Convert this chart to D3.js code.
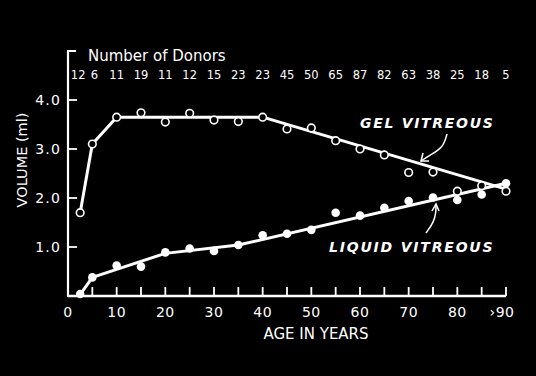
<!DOCTYPE html>
<html>
<head>
<meta charset="utf-8">
<script src="https://cdn.jsdelivr.net/npm/d3@7"></script>
<style>
  body { margin: 0; background: #000; }
  text { font-family: "DejaVu Sans", sans-serif; fill: #fff; }
</style>
</head>
<body>
<div id="chart"></div>
<script>
// ages of the donor groups (last one is >90)
const ages = [2.5, 5, 10, 15, 20, 25, 30, 35, 40, 45, 50, 55, 60, 65, 70, 75, 80, 85, 90]
const donors = [12, 6, 11, 19, 11, 12, 15, 23, 23, 45, 50, 65, 87, 82, 63, 38, 25, 18, 5]
const gelVolume = [1.70, 3.10, 3.65, 3.74, 3.55, 3.73, 3.59, 3.56, 3.65, 3.41, 3.43, 3.17, 3.00, 2.88, 2.52, 2.53, 2.14, 2.25, 2.14]
const liquidVolume = [0.04, 0.38, 0.62, 0.60, 0.89, 0.97, 0.92, 1.04, 1.24, 1.27, 1.35, 1.70, 1.64, 1.80, 1.94, 2.01, 1.96, 2.07, 2.30]

// hand drawn fit lines
const gelFitAges = [2.5, 5, 10, 40, 90]
const gelFit = [1.70, 3.10, 3.65, 3.65, 2.18]
const liquidFitAges = [2.5, 5, 20, 35, 90]
const liquidFit = [0.03, 0.38, 0.87, 1.04, 2.30]

const xTickLabels = ['0', '10', '20', '30', '40', '50', '60', '70', '80', '›90']
const yTickLabels = ['1.0', '2.0', '3.0', '4.0']

const width = 536, height = 376

const svg = d3.select('#chart').append('svg')
    .attr('width', width).attr('height', height)
    .style('background', '#000')

const x = d3.scaleLinear().domain([0, 90]).range([68, 506])
const y = d3.scaleLinear().domain([0, 4]).range([296, 100])

// x axis
const xAxis = svg.append('g')
xAxis.append('line')
    .attr('x1', x(0)).attr('x2', x(90))
    .attr('y1', y(0)).attr('y2', y(0))
    .attr('stroke', '#fff').attr('stroke-width', 2.5)
xAxis.selectAll('.xtick')
    .data(d3.range(5, 91, 5))
    .enter().append('line')
    .attr('x1', d => x(d)).attr('x2', d => x(d))
    .attr('y1', y(0)).attr('y2', y(0) - 9)
    .attr('stroke', '#fff').attr('stroke-width', 1.8)
xAxis.selectAll('.xlab')
    .data(xTickLabels)
    .enter().append('text')
    .attr('x', (d, i) => x(i * 10) + (i == 9 ? -4 : 0))
    .attr('y', 317)
    .attr('text-anchor', 'middle')
    .attr('font-size', 14)
    .attr('letter-spacing', 0.5)
    .text(d => d)
svg.append('text')
    .attr('x', 316).attr('y', 339)
    .attr('text-anchor', 'middle')
    .attr('font-size', 15)
    .text('AGE IN YEARS')

// y axis
const yAxis = svg.append('g')
yAxis.append('line')
    .attr('x1', x(0)).attr('x2', x(0))
    .attr('y1', 51).attr('y2', y(0) + 1)
    .attr('stroke', '#fff').attr('stroke-width', 2.2)
yAxis.append('line')
    .attr('x1', x(0) - 1).attr('x2', x(0) + 8)
    .attr('y1', 51).attr('y2', 51)
    .attr('stroke', '#fff').attr('stroke-width', 2)
yAxis.selectAll('.ytick')
    .data([1, 2, 3, 4])
    .enter().append('line')
    .attr('x1', x(0)).attr('x2', x(0) + 9)
    .attr('y1', d => y(d)).attr('y2', d => y(d))
    .attr('stroke', '#fff').attr('stroke-width', 1.8)
yAxis.selectAll('.ylab')
    .data(yTickLabels)
    .enter().append('text')
    .attr('x', 61)
    .attr('y', (d, i) => y(i + 1) + 5)
    .attr('text-anchor', 'end')
    .attr('font-size', 14)
    .attr('letter-spacing', 1.2)
    .text(d => d)
svg.append('text')
    .attr('transform', 'translate(27,160) rotate(-90)')
    .attr('text-anchor', 'middle')
    .attr('font-size', 14.5)
    .text('VOLUME (ml)')

// donors row
svg.append('text')
    .attr('x', 88).attr('y', 61)
    .attr('font-size', 15)
    .text('Number of Donors')
svg.selectAll('.donor')
    .data(donors)
    .enter().append('text')
    .attr('x', (d, i) => x(ages[i]) + (i == 0 ? -2 : i == 1 ? 2 : 0))
    .attr('y', 79)
    .attr('text-anchor', 'middle')
    .attr('font-size', 11.5)
    .text(d => d)

// fit lines
const line = d3.line().x(d => x(d[0])).y(d => y(d[1]))
svg.append('path')
    .attr('d', line(gelFitAges.map((a, i) => [a, gelFit[i]])))
    .attr('fill', 'none').attr('stroke', '#fff').attr('stroke-width', 3)
    .attr('stroke-linejoin', 'round')
svg.append('path')
    .attr('d', line(liquidFitAges.map((a, i) => [a, liquidFit[i]])))
    .attr('fill', 'none').attr('stroke', '#fff').attr('stroke-width', 3)
    .attr('stroke-linejoin', 'round')

// points
svg.selectAll('.liquid')
    .data(liquidVolume)
    .enter().append('circle')
    .attr('cx', (d, i) => x(ages[i]))
    .attr('cy', d => y(d))
    .attr('r', 4.3)
    .attr('fill', '#fff')
svg.selectAll('.gel')
    .data(gelVolume)
    .enter().append('circle')
    .attr('cx', (d, i) => x(ages[i]))
    .attr('cy', d => y(d))
    .attr('r', 3.8)
    .attr('fill', '#000')
    .attr('stroke', '#fff').attr('stroke-width', 1.6)

// labels with arrows
svg.append('text')
    .attr('x', 360).attr('y', 128)
    .attr('font-size', 14).attr('font-style', 'italic').attr('font-weight', 'bold')
    .attr('letter-spacing', 1.7)
    .text('GEL VITREOUS')
svg.append('text')
    .attr('x', 329).attr('y', 252)
    .attr('font-size', 14).attr('font-style', 'italic').attr('font-weight', 'bold')
    .attr('letter-spacing', 1.8)
    .text('LIQUID VITREOUS')

const arrow = (pts, tip) => {
    svg.append('path')
        .attr('d', d3.line().curve(d3.curveBasis)(pts))
        .attr('fill', 'none').attr('stroke', '#fff').attr('stroke-width', 1.5)
    svg.append('path')
        .attr('d', d3.line()(tip))
        .attr('fill', 'none').attr('stroke', '#fff').attr('stroke-width', 1.5)
}
arrow([[447, 134], [443, 148], [430, 155], [421, 161]],
      [[423, 153], [421, 161], [429, 161]])
arrow([[426, 233], [434, 222], [436, 212], [436, 205]],
      [[432, 211], [436, 204], [439, 211]])
</script>
</body>
</html>
